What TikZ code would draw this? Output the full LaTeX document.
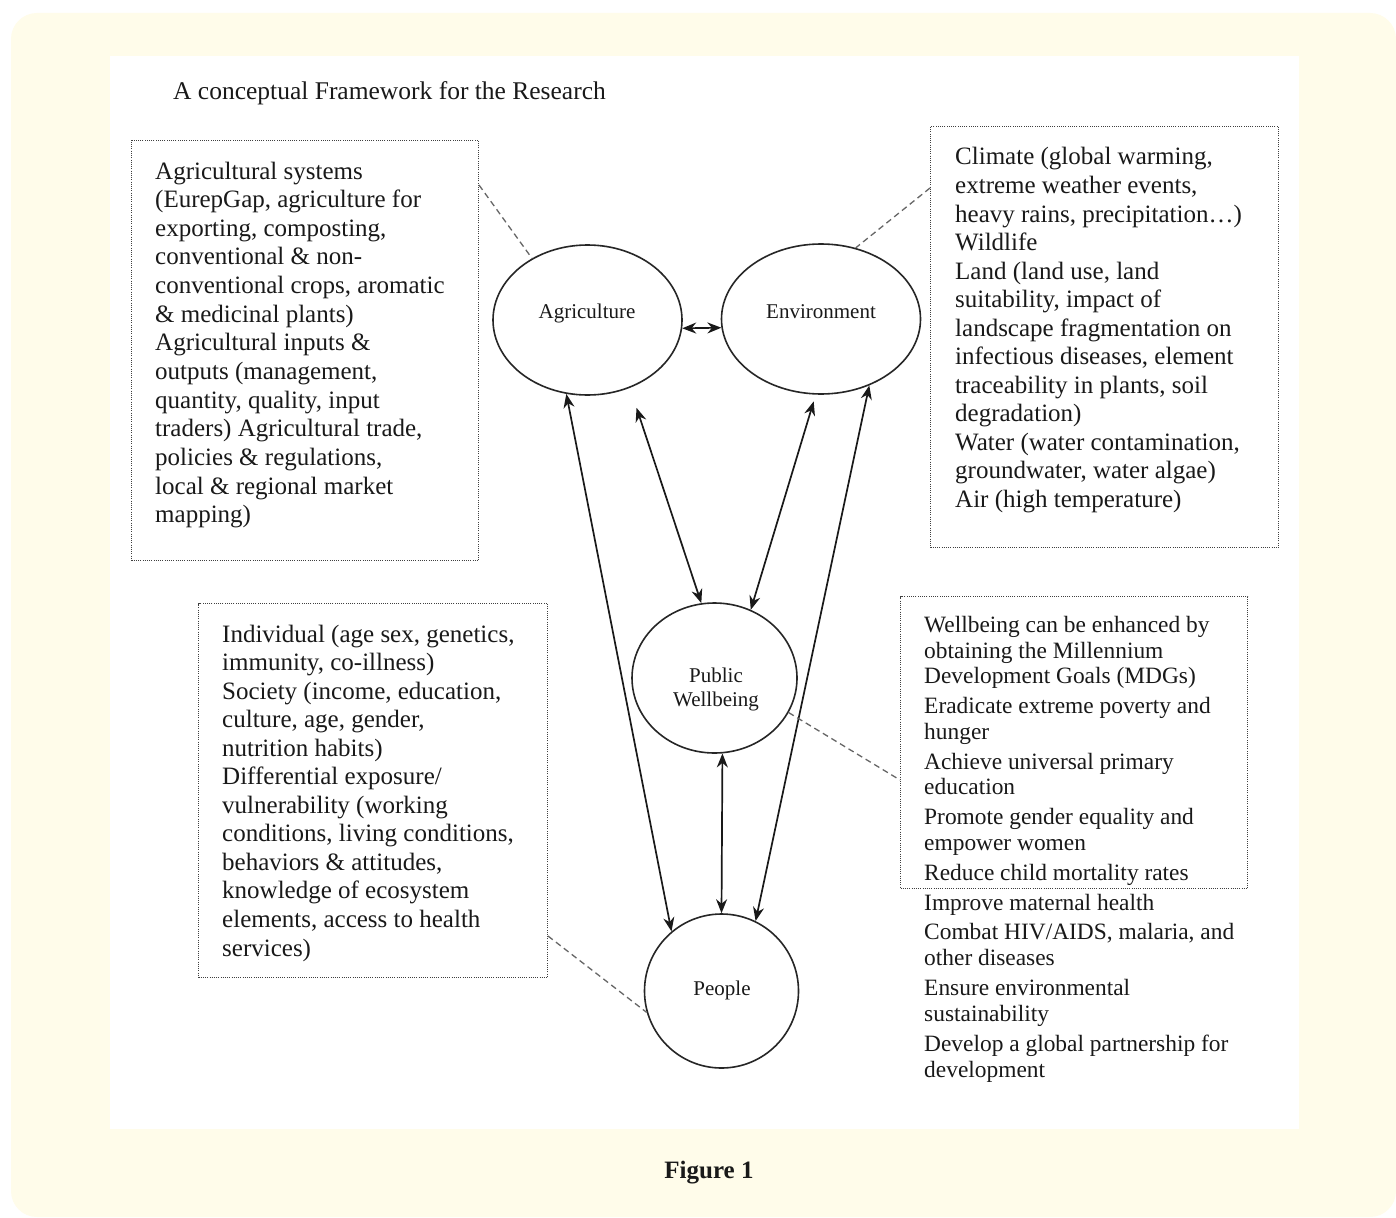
\documentclass[tikz,border=0pt]{standalone}
\usepackage{fontspec}
\setmainfont{Liberation Serif}
\usetikzlibrary{shapes.geometric,arrows.meta}
\definecolor{cream}{RGB}{255,252,234}
\definecolor{ink}{RGB}{25,25,25}
\begin{document}
\begin{tikzpicture}[x=1pt,y=-1pt,
 txt/.style={anchor=base west,inner sep=0pt,text=ink,font=\fontsize{25}{28.6}\selectfont},
 txs/.style={anchor=base west,inner sep=0pt,text=ink,font=\fontsize{23.4}{25.7}\selectfont},
 lbl/.style={anchor=base,inner sep=0pt,text=ink,font=\fontsize{21}{24}\selectfont},
 dotbox/.style={draw=black!75,line width=1pt,dash pattern=on 1pt off 1.2pt,inner sep=0pt,anchor=north west},
 oval/.style={draw=black!85,line width=1.6pt,ellipse,inner sep=0pt},
 link/.style={draw=black!90,line width=1.7pt,{Stealth[length=14pt,width=11pt]}-{Stealth[length=14pt,width=11pt]}},
 leader/.style={draw=black!60,line width=1.3pt,dash pattern=on 6pt off 4pt}]
\useasboundingbox (0,0) rectangle (1396,1217);
\fill[white] (0,0) rectangle (1396,1217);
\fill[cream,rounded corners=26pt] (11,13) rectangle (1396,1217);
\fill[white] (110,56) rectangle (1299,1129);

% title
\node[anchor=base west,inner sep=0pt,text=ink,font=\fontsize{25.5}{28}\selectfont] (title) at (173,100) {A conceptual Framework for the Research};

% boxes
\node[dotbox,minimum width=347pt,minimum height=420pt] (tlbox) at (131,140) {};
\node[dotbox,minimum width=348pt,minimum height=421pt] (trbox) at (930,126) {};
\node[dotbox,minimum width=349pt,minimum height=374pt] (lbbox) at (198,603) {};
\node[dotbox,minimum width=347pt,minimum height=292pt] (rbbox) at (900,596) {};

% top-left text
\foreach \t [count=\i from 0] in {{Agricultural systems},{(EurepGap, agriculture for},{exporting, composting,},{conventional \& non-},{conventional crops, aromatic},{\& medicinal plants)},{Agricultural inputs \&},{outputs (management,},{quantity, quality, input},{traders) Agricultural trade,},{policies \& regulations,},{local \& regional market},{mapping)}}
  \node[txt] (tl\i) at (155,{179+\i*28.65}) {\t};

% top-right text
\foreach \t [count=\i from 0] in {{Climate (global warming,},{extreme weather events,},{heavy rains, precipitation…)},{Wildlife},{Land (land use, land},{suitability, impact of},{landscape fragmentation on},{infectious diseases, element},{traceability in plants, soil},{degradation)},{Water (water contamination,},{groundwater, water algae)},{Air (high temperature)}}
  \node[txt] (tr\i) at (955,{165+\i*28.5}) {\t};

% bottom-left text
\foreach \t [count=\i from 0] in {{Individual (age sex, genetics,},{immunity, co-illness)},{Society (income, education,},{culture, age, gender,},{nutrition habits)},{Differential exposure/},{vulnerability (working},{conditions, living conditions,},{behaviors \& attitudes,},{knowledge of ecosystem},{elements, access to health},{services)}}
  \node[txt] (lb\i) at (222,{642+\i*28.55}) {\t};

% bottom-right text
\node[txs] (rb1) at (924,632.5) {Wellbeing can be enhanced by};
\node[txs] (rb2) at (924,658.5) {obtaining the Millennium};
\node[txs] (rb3) at (924,683.5) {Development Goals (MDGs)};
\node[txs] (rb4) at (924,713.5) {Eradicate extreme poverty and};
\node[txs] (rb5) at (924,739.5) {hunger};
\node[txs] (rb6) at (924,769.5) {Achieve universal primary};
\node[txs] (rb7) at (924,794.5) {education};
\node[txs] (rb8) at (924,824.5) {Promote gender equality and};
\node[txs] (rb9) at (924,850.5) {empower women};
\node[txs] (rb10) at (924,880.5) {Reduce child mortality rates};
\node[txs] (rb11) at (924,910.5) {Improve maternal health};
\node[txs] (rb12) at (924,939.5) {Combat HIV/AIDS, malaria, and};
\node[txs] (rb13) at (924,965.5) {other diseases};
\node[txs] (rb14) at (924,995.5) {Ensure environmental};
\node[txs] (rb15) at (924,1021.5) {sustainability};
\node[txs] (rb16) at (924,1051.5) {Develop a global partnership for};
\node[txs] (rb17) at (924,1077.5) {development};

% ovals
\node[oval,minimum width=189pt,minimum height=150pt] (agr) at (587.5,320) {};
\node[oval,minimum width=199pt,minimum height=150pt] (env) at (821,319) {};
\node[oval,minimum width=165pt,minimum height=150pt] (pub) at (714.5,678) {};
\node[oval,minimum width=154pt,minimum height=154pt] (peo) at (721.5,991) {};
\node[lbl] (agrt) at (587,318) {Agriculture};
\node[lbl] (envt) at (821,318) {Environment};
\node[lbl] (pubt1) at (716,682) {Public};
\node[lbl] (pubt2) at (716,706) {Wellbeing};
\node[lbl] (peot) at (722,995) {People};

% connectors
\draw[link] (agr.-5) -- (env.185);
\draw[link] (agr.-106) -- (peo.130);
\draw[link,shorten <=21pt] (agr.-58.4) -- (pub.100);
\draw[link,shorten <=7pt] (env.-94.5) -- (pub.62);
\draw[link] (env.-54) -- (peo.64.5);
\draw[link] (pub.-84) -- (peo.90);

% leaders
\coordinate (c1) at ([yshift=-45pt]tlbox.north east);
\coordinate (c2) at ([yshift=-62pt]trbox.north west);
\coordinate (c3) at ([yshift=-184pt]rbbox.north west);
\coordinate (c4) at ([yshift=42pt]lbbox.south east);
\draw[leader] (c1) -- (agr.132);
\draw[leader] (c2) -- (env.64);
\draw[leader] (pub.-25) -- (c3);
\draw[leader] (c4) -- (peo.196);

% caption
\node[inner sep=0pt,text=ink,font=\bfseries\fontsize{25}{28}\selectfont] (cap) at (709,1173) {Figure 1};
\end{tikzpicture}
\end{document}
